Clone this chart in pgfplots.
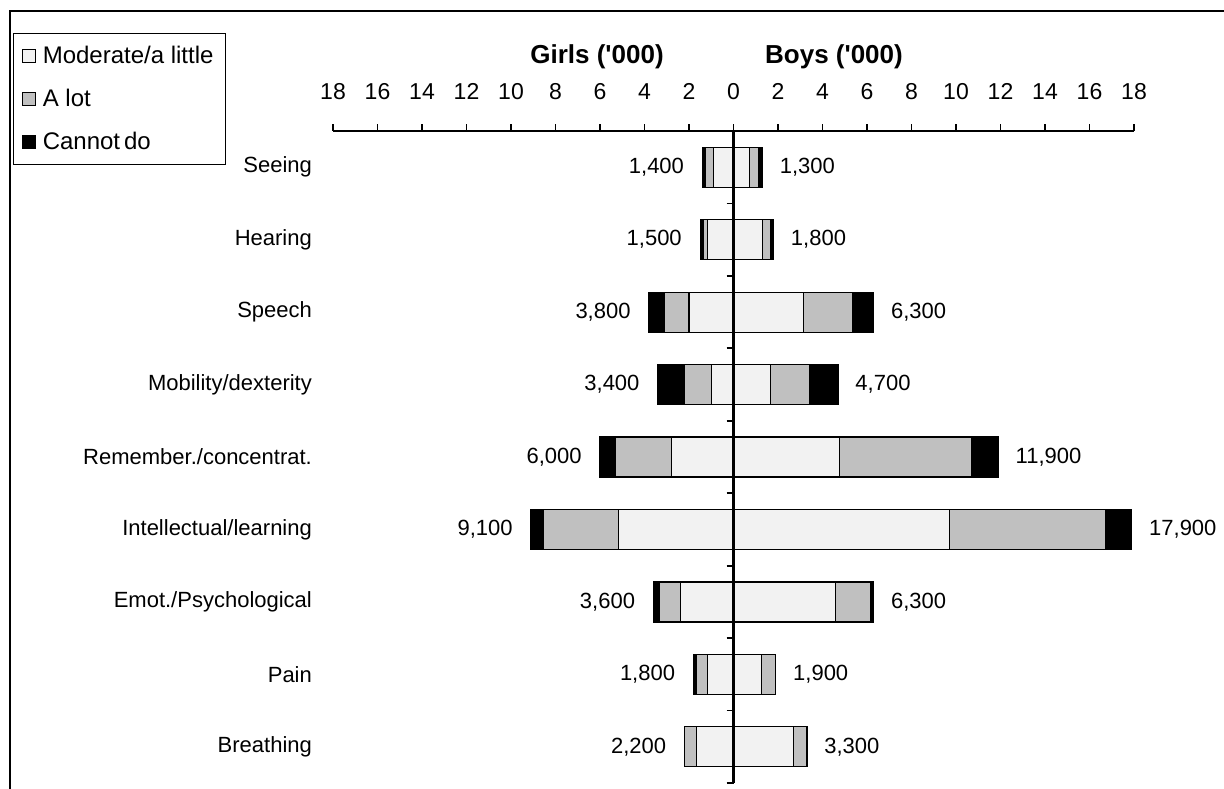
\documentclass[border=0pt]{standalone}
\usepackage{fontspec}
\setmainfont{Liberation Sans}
\usepackage{pgfplots}
\usepackage{pgfplotstable}
\pgfplotsset{compat=1.18}

\definecolor{light}{HTML}{F2F2F2}
\definecolor{mid}{HTML}{C0C0C0}

% girls, '000 (moderate/a little, a lot, cannot do)
\pgfplotstableread{
cat mod alot cannot lbl
1 0.90 0.37 0.13 1,400
2 1.17 0.20 0.13 1,500
3 2.00 1.12 0.68 3,800
4 1.00 1.20 1.20 3,400
5 2.80 2.50 0.70 6,000
6 5.16 3.40 0.54 9,100
7 2.40 0.95 0.25 3,600
8 1.17 0.48 0.15 1,800
9 1.68 0.52 0.00 2,200
}\girls

% boys, '000
\pgfplotstableread{
cat mod alot cannot lbl
1 0.71 0.44 0.15 1,300
2 1.30 0.38 0.12 1,800
3 3.15 2.20 0.95 6,300
4 1.67 1.73 1.30 4,700
5 4.75 5.95 1.20 11,900
6 9.70 7.03 1.17 17,900
7 4.60 1.55 0.15 6,300
8 1.27 0.60 0.03 1,900
9 2.68 0.62 0.00 3,300
}\boys

\pgfplotsset{
  geom/.style={
    scale only axis, width=400.5bp, height=326bp,
    at={(166.5bp,-391.5bp)}, anchor=south west,
    xmin=-18, xmax=18, ymin=0.5, ymax=9.5, y dir=reverse,
    clip=false,
  },
  butterfly/.style={geom, xbar stacked, bar width=20bp},
  seg/.style={draw=black, line width=0.6bp, fill=#1},
}

\begin{document}
\fontsize{11bp}{13.2bp}\selectfont
\begin{tikzpicture}
\useasboundingbox (0,0) rectangle (612bp,-394.5bp);
\draw[line width=1bp] (5bp,-400bp) -- (5bp,-5.5bp) -- (615bp,-5.5bp);

% girls: bars, category names, legend
\begin{axis}[butterfly,
    hide x axis, axis y line*=left, y axis line style={draw=none},
    ytick={1,...,9}, major tick length=0pt,
    yticklabels={Seeing,Hearing,Speech,Mobility/dexterity,Remember./concentrat.,Intellectual/learning,Emot./Psychological,Pain,Breathing},
    yticklabel style={xshift=-6.7bp},
    legend style={at={(-0.3995,1.1503)}, anchor=north west, draw=black,
        line width=0.6bp, inner xsep=4bp, inner ysep=4bp, row sep=7.2bp,
        font=\fontsize{12bp}{14.4bp}\selectfont,
        cells={anchor=west, inner xsep=1bp},
        /tikz/every odd column/.append style={column sep=1.5bp}},
    legend image code/.code={\draw[#1] (2.5bp,-3.25bp) rectangle (9bp,3.25bp);},
]
\addplot[seg=light] table[x expr=-\thisrow{mod}, y=cat]{\girls};
\addlegendentry{Moderate/a little}
\addplot[seg=mid] table[x expr=-\thisrow{alot}, y=cat]{\girls};
\addlegendentry{A lot}
\addplot[seg=black] table[x expr=-\thisrow{cannot}, y=cat]{\girls};
\addlegendentry{Cannot\,do}
\end{axis}

% boys: bars and the axis lines
\begin{axis}[butterfly, axis on top,
    axis x line*=top, axis y line*=middle, tick align=outside,
    every inner y axis line/.append style={-},
    axis line style={line width=1.3bp},
    tick style={black, line width=0.9bp}, major tick length=3.5bp,
    xtick={-18,-16,...,18},
    xticklabels={18,16,14,12,10,8,6,4,2,0,2,4,6,8,10,12,14,16,18},
    xticklabel style={yshift=8.5bp, font=\fontsize{11.5bp}{13.8bp}\selectfont},
    ytick={1.5,2.5,...,9.5}, yticklabels={},
]
\addplot[seg=light] table[x=mod, y=cat]{\boys};
\addplot[seg=mid] table[x=alot, y=cat]{\boys};
\addplot[seg=black] table[x=cannot, y=cat]{\boys};
\end{axis}

% totals written beside the bars
\begin{axis}[geom, hide axis]
\addplot[draw=none, mark=none, nodes near coords, point meta=explicit symbolic,
    nodes near coords style={anchor=east, inner sep=0pt, xshift=-9bp, text=black}]
    table[x expr=-(\thisrow{mod}+\thisrow{alot}+\thisrow{cannot}), y=cat, meta=lbl]{\girls};
\addplot[draw=none, mark=none, nodes near coords, point meta=explicit symbolic,
    nodes near coords style={anchor=west, inner sep=0pt, xshift=8.5bp, text=black}]
    table[x expr=\thisrow{mod}+\thisrow{alot}+\thisrow{cannot}, y=cat, meta=lbl]{\boys};
\end{axis}

\node[font=\bfseries\fontsize{13bp}{15.6bp}\selectfont] at (298.5bp,-28.5bp) {Girls (\textquotesingle000)};
\node[font=\bfseries\fontsize{13bp}{15.6bp}\selectfont] at (417bp,-28.5bp) {Boys (\textquotesingle000)};
\end{tikzpicture}
\end{document}
